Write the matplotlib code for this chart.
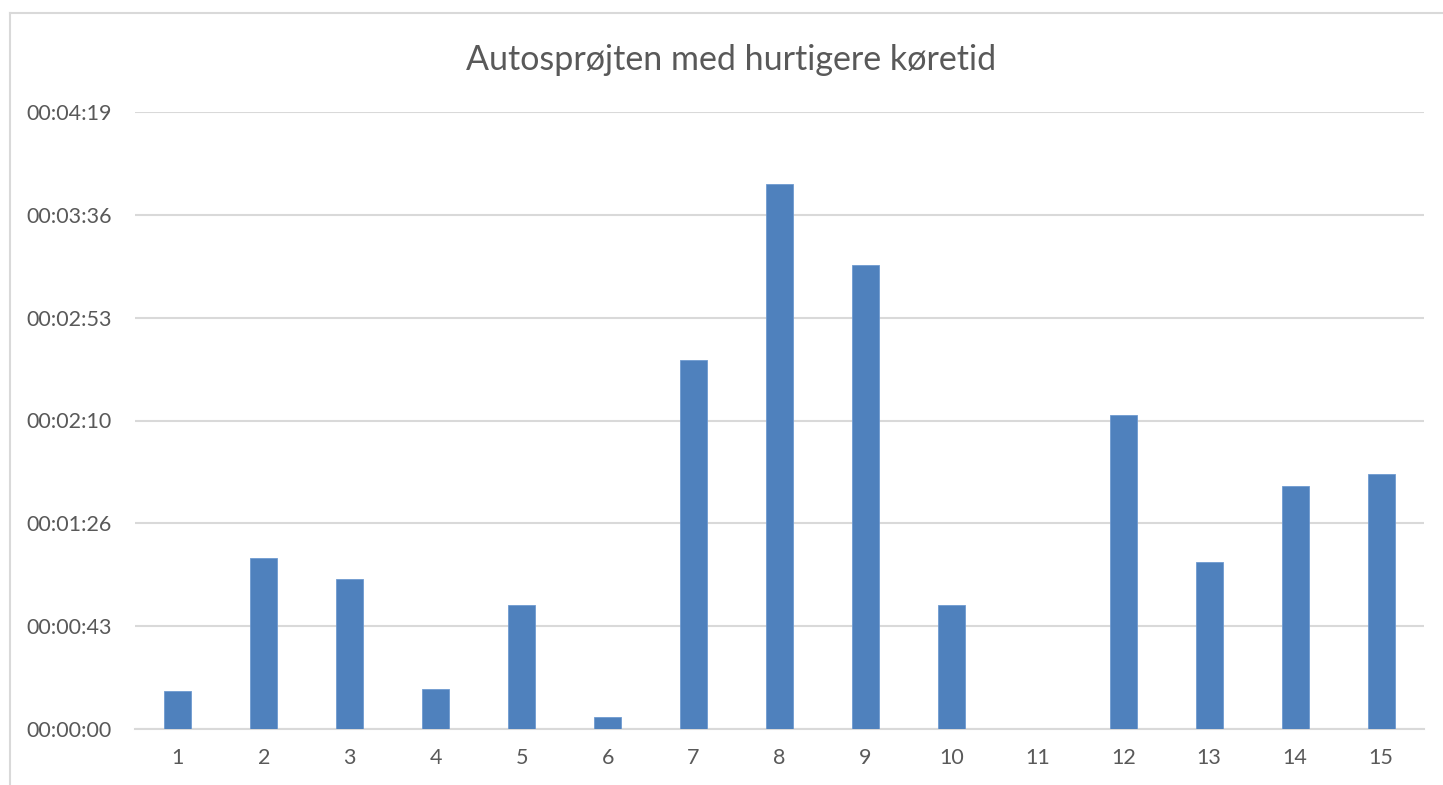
import matplotlib
matplotlib.use("Agg")
import matplotlib.pyplot as plt
from matplotlib.ticker import FuncFormatter, FixedLocator
from matplotlib.lines import Line2D

# Data (seconds)
categories = [str(i) for i in range(1, 16)]
seconds = [16, 72, 63, 17, 52, 5, 155, 229, 195, 52, 0, 132, 70, 102, 107]
y_ticks = [0, 43.2, 86.4, 129.6, 172.8, 216.0, 259.2]
title = "Autosprøjten med hurtigere køretid"

plt.rcParams['font.family'] = ['Lato', 'DejaVu Sans']
text_color = '#595959'
grid_color = '#D9D9D9'
bar_color = '#4F81BD'

W, H = 1443, 785
fig = plt.figure(figsize=(W / 100, H / 100), dpi=100)
ax = fig.add_axes([135 / W, 1 - 729 / H, (1424 - 135) / W, (729 - 112) / H])

x = list(range(len(categories)))
ax.bar(x, seconds, width=0.314, color=bar_color, edgecolor='#6F9AD0', linewidth=0.6, zorder=3)

ax.set_xlim(-0.5, len(categories) - 0.5)
ax.set_ylim(0, 259.2)
ax.yaxis.set_major_locator(FixedLocator(y_ticks))

def fmt(v, pos):
    s = int(round(v))
    return f"{s // 3600:02d}:{(s % 3600) // 60:02d}:{s % 60:02d}"

ax.yaxis.set_major_formatter(FuncFormatter(fmt))
ax.set_xticks(x)
ax.set_xticklabels(categories)

ax.grid(axis='y', color=grid_color, linewidth=1.5, zorder=0)
for sp in ax.spines.values():
    sp.set_visible(False)
ax.spines['bottom'].set_visible(True)
ax.spines['bottom'].set_color(grid_color)
ax.spines['bottom'].set_linewidth(1.5)

ax.tick_params(axis='both', length=0, labelsize=15.5, colors=text_color)
ax.tick_params(axis='y', pad=16.5)
ax.tick_params(axis='x', pad=14)

fig.text(731 / W, 1 - 60 / H, title, ha='center', va='center', fontsize=24.5, color=text_color)

# chart border (top and left visible)
fig.add_artist(Line2D([9.5 / W, 1.0], [1 - 12.5 / H, 1 - 12.5 / H], color=grid_color, linewidth=1.5, transform=fig.transFigure))
fig.add_artist(Line2D([9.5 / W, 9.5 / W], [0, 1 - 12.5 / H], color=grid_color, linewidth=1.5, transform=fig.transFigure))

fig.savefig("out.png", dpi=100, facecolor='white')
